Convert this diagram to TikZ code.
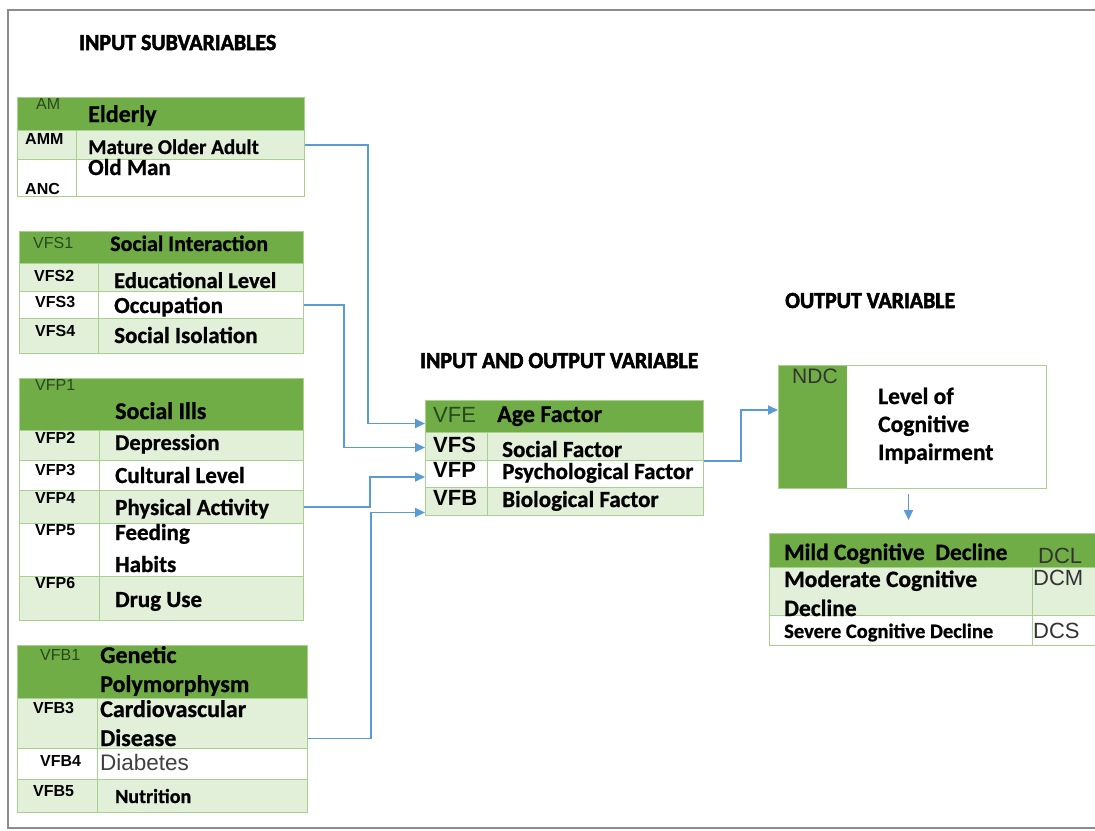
\documentclass[tikz,border=0pt]{standalone}
\usepackage{fontspec}
\setmainfont{Carlito}[BoldFeatures={FakeBold=0.8}]
\newfontfamily\headfont{Carlito}[FakeStretch=0.95, BoldFeatures={FakeBold=2.2}]
\newfontfamily\arialfont{Liberation Sans}
\usepackage{tikz}
\usetikzlibrary{arrows.meta}
\definecolor{hdrgreen}{RGB}{112,173,71}
\definecolor{litegreen}{RGB}{226,239,217}
\definecolor{linegreen}{RGB}{169,209,142}
\definecolor{codegreen}{RGB}{40,72,30}
\definecolor{linkblue}{RGB}{91,155,213}
\definecolor{framegray}{RGB}{140,140,140}
\definecolor{softblack}{RGB}{64,64,64}
\tikzset{
  rowbox/.style={draw=linegreen, line width=1pt, anchor=north west, inner sep=0pt},
  labtxt/.style={anchor=base west, inner sep=0pt, font=\bfseries\fontsize{#1}{#1}\selectfont},
  labtxt/.default=22,
  idtxt/.style={anchor=base west, inner sep=0pt, font=\arialfont\bfseries\fontsize{#1}{#1}\selectfont},
  idtxt/.default=16,
  hidtxt/.style={anchor=base west, inner sep=0pt, text=codegreen, font=\arialfont\fontsize{#1}{#1}\selectfont},
  hidtxt/.default=16,
  outtxt/.style={anchor=base west, inner sep=0pt, text=black!80, font=\arialfont\fontsize{#1}{#1}\selectfont},
  heading/.style={anchor=base west, inner sep=0pt, font=\headfont\bfseries\fontsize{23}{23}\selectfont},
  link/.style={draw=linkblue, line width=1.8pt, -{Triangle[length=10pt,width=9pt]}},
}
\begin{document}
\begin{tikzpicture}[x=1pt,y=-1pt]
	\useasboundingbox (0,0) rectangle (1095,830);
	\clip (0,0) rectangle (1095,830);
	\fill[white] (0,0) rectangle (1095,830);
	\draw[framegray, line width=2.5pt] (1095,10) -- (8,10) -- (8,828) -- (1095,828);
	% headings
	\node[heading] (in-h) at (79,50) {INPUT SUBVARIABLES};
	\node[heading] (io-h) at (420,368) {INPUT AND OUTPUT VARIABLE};
	\node[heading] (out-h) at (785,308) {OUTPUT VARIABLE};
	% age table
	\node[rowbox, fill=hdrgreen, minimum width=287, minimum height=33] (am) at (17,97) {};
	\node[rowbox, fill=litegreen, minimum width=287, minimum height=29] (amm) at (17,130) {};
	\node[rowbox, fill=white, minimum width=287, minimum height=37] (anc) at (17,159) {};
	\draw[linegreen, line width=1pt] (76,130) -- (76,196);
	\node[hidtxt] (am-c) at (36,109) {AM};
	\node[labtxt=24] (am-t) at (88,122) {Elderly};
	\node[idtxt] (amm-c) at (25,144) {AMM};
	\node[labtxt=21] (amm-t) at (88,154) {Mature Older Adult};
	\node[idtxt] (anc-c) at (25,194) {ANC};
	\node[labtxt=23] (anc-t) at (88,175) {Old Man};
	% social table
	\node[rowbox, fill=hdrgreen, minimum width=284, minimum height=32] (vfs1) at (19,231) {};
	\node[rowbox, fill=litegreen, minimum width=284, minimum height=28] (vfs2) at (19,263) {};
	\node[rowbox, fill=white, minimum width=284, minimum height=27] (vfs3) at (19,291) {};
	\node[rowbox, fill=litegreen, minimum width=284, minimum height=35] (vfs4) at (19,318) {};
	\draw[linegreen, line width=1pt] (98,263) -- (98,353);
	\node[hidtxt] (vfs1-c) at (33,248) {VFS1};
	\node[labtxt=22] (vfs1-t) at (110,251) {Social Interaction};
	\node[idtxt] (vfs2-c) at (34,281) {VFS2};
	\node[labtxt=22.5] (vfs2-t) at (114,288) {Educational Level};
	\node[idtxt] (vfs3-c) at (35,307) {VFS3};
	\node[labtxt=23] (vfs3-t) at (114,313) {Occupation};
	\node[idtxt] (vfs4-c) at (35,336) {VFS4};
	\node[labtxt=23] (vfs4-t) at (114,343) {Social Isolation};
	% psychological table
	\node[rowbox, fill=hdrgreen, minimum width=284, minimum height=52] (vfp1) at (19,378) {};
	\node[rowbox, fill=litegreen, minimum width=284, minimum height=30] (vfp2) at (19,430) {};
	\node[rowbox, fill=white, minimum width=284, minimum height=30] (vfp3) at (19,460) {};
	\node[rowbox, fill=litegreen, minimum width=284, minimum height=33] (vfp4) at (19,490) {};
	\node[rowbox, fill=white, minimum width=284, minimum height=53] (vfp5) at (19,523) {};
	\node[rowbox, fill=litegreen, minimum width=284, minimum height=44] (vfp6) at (19,576) {};
	\draw[linegreen, line width=1pt] (99,430) -- (99,620);
	\node[hidtxt] (vfp1-c) at (35,390) {VFP1};
	\node[labtxt=24] (vfp1-t) at (115,419) {Social Ills};
	\node[idtxt] (vfp2-c) at (35,443) {VFP2};
	\node[labtxt=22.5] (vfp2-t) at (115,450) {Depression};
	\node[idtxt] (vfp3-c) at (35,475) {VFP3};
	\node[labtxt=23] (vfp3-t) at (115,483) {Cultural Level};
	\node[idtxt] (vfp4-c) at (35,503) {VFP4};
	\node[labtxt=23] (vfp4-t) at (115,515) {Physical Activity};
	\node[idtxt] (vfp5-c) at (35,535) {VFP5};
	\node[labtxt=23] (vfp5-t) at (115,540) {Feeding};
	\node[labtxt=23] (vfp5-u) at (115,572) {Habits};
	\node[idtxt] (vfp6-c) at (35,588) {VFP6};
	\node[labtxt=23] (vfp6-t) at (115,607) {Drug Use};
	% biological table
	\node[rowbox, fill=hdrgreen, minimum width=290, minimum height=53] (vfb1) at (17,645) {};
	\node[rowbox, fill=litegreen, minimum width=290, minimum height=50] (vfb3) at (17,698) {};
	\node[rowbox, fill=white, minimum width=290, minimum height=31] (vfb4) at (17,748) {};
	\node[rowbox, fill=litegreen, minimum width=290, minimum height=33] (vfb5) at (17,779) {};
	\draw[linegreen, line width=1pt] (97,698) -- (97,812);
	\node[hidtxt] (vfb1-c) at (40,660) {VFB1};
	\node[labtxt=24] (vfb1-t) at (100,663) {Genetic};
	\node[labtxt=24] (vfb1-u) at (100,692) {Polymorphysm};
	\node[idtxt] (vfb3-c) at (33,713) {VFB3};
	\node[labtxt=24] (vfb3-t) at (100,717) {Cardiovascular};
	\node[labtxt=24] (vfb3-u) at (100,746) {Disease};
	\node[idtxt] (vfb4-c) at (40,766) {VFB4};
	\node[anchor=base west, inner sep=0pt, text=softblack, font=\arialfont\fontsize{22.5}{22.5}\selectfont] (vfb4-t) at (100,770) {Diabetes};
	\node[idtxt] (vfb5-c) at (33,796) {VFB5};
	\node[labtxt=20] (vfb5-t) at (115,803) {Nutrition};
	% input and output table
	\node[rowbox, fill=hdrgreen, minimum width=278, minimum height=32] (vfe) at (425,400) {};
	\node[rowbox, fill=litegreen, minimum width=278, minimum height=28] (vfs) at (425,432) {};
	\node[rowbox, fill=white, minimum width=278, minimum height=27] (vfp) at (425,460) {};
	\node[rowbox, fill=litegreen, minimum width=278, minimum height=28] (vfb) at (425,487) {};
	\draw[linegreen, line width=1pt] (487,432) -- (487,515);
	\node[hidtxt=22] (vfe-c) at (433,422) {VFE};
	\node[labtxt=24] (vfe-t) at (497,422) {Age Factor};
	\node[idtxt=22] (vfs-c) at (433,452) {VFS};
	\node[labtxt=23] (vfs-t) at (502,457) {Social Factor};
	\node[idtxt=22] (vfp-c) at (433,477) {VFP};
	\node[labtxt=23] (vfp-t) at (502,479) {Psychological Factor};
	\node[idtxt=22] (vfb-c) at (433,505) {VFB};
	\node[labtxt=23] (vfb-t) at (502,507) {Biological Factor};
	% output box
	\node[rowbox, fill=white, minimum width=268, minimum height=123,
		path picture={\fill[hdrgreen] (path picture bounding box.north west) rectangle ([xshift=68pt]path picture bounding box.south west);}] (ndc) at (778,365) {};
	\node[outtxt=21] (ndc-c) at (792,383) {NDC};
	\node[labtxt=23.5] (ndc-t) at (878,404) {Level of};
	\node[labtxt=23.5] (ndc-u) at (878,432) {Cognitive};
	\node[labtxt=23.5] (ndc-v) at (878,460) {Impairment};
	% decline table
	\node[rowbox, fill=hdrgreen, minimum width=331, minimum height=34] (mild) at (769,533) {};
	\node[rowbox, fill=litegreen, minimum width=331, minimum height=48] (moder) at (769,567) {};
	\node[rowbox, fill=white, minimum width=331, minimum height=30] (sev) at (769,615) {};
	\draw[linegreen, line width=1pt] (1032,567) -- (1032,645);
	\node[labtxt=23.4] (mild-t) at (784,560) {Mild Cognitive\ \ Decline};
	\node[outtxt=22] (mild-c) at (1038,563) {DCL};
	\node[labtxt=23.5] (moder-t) at (784,587) {Moderate Cognitive};
	\node[labtxt=23.5] (moder-u) at (784,616) {Decline};
	\node[outtxt=22] (moder-c) at (1033,585) {DCM};
	\node[labtxt=20.5] (sev-t) at (784,638) {Severe Cognitive Decline};
	\node[outtxt=22] (sev-c) at (1033,638) {DCS};
	% connectors
	\draw[link] (amm.east) -- ++(63,0) |- ([yshift=-7pt]vfe.west);
	\draw[link] (vfs3.east) -- ++(40,0) |- ([yshift=-1pt]vfs.west);
	\draw[link] (vfp4.east) -- ++(66,0) |- ([yshift=-3pt]vfp.west);
	\draw[link] ([yshift=-15pt]vfb3.east) -- ++(63,0) |- ([yshift=-11pt]vfb.west);
	\draw[link] (vfs.south east) -- ++(37,0) |- ([yshift=17pt]ndc.west);
	\path (ndc.south |- mild.north) coordinate (tbltop);
	\draw[link] ([xshift=-4pt,yshift=-5pt]ndc.south) -- ([xshift=-4pt,yshift=13pt]tbltop);
\end{tikzpicture}
\end{document}
